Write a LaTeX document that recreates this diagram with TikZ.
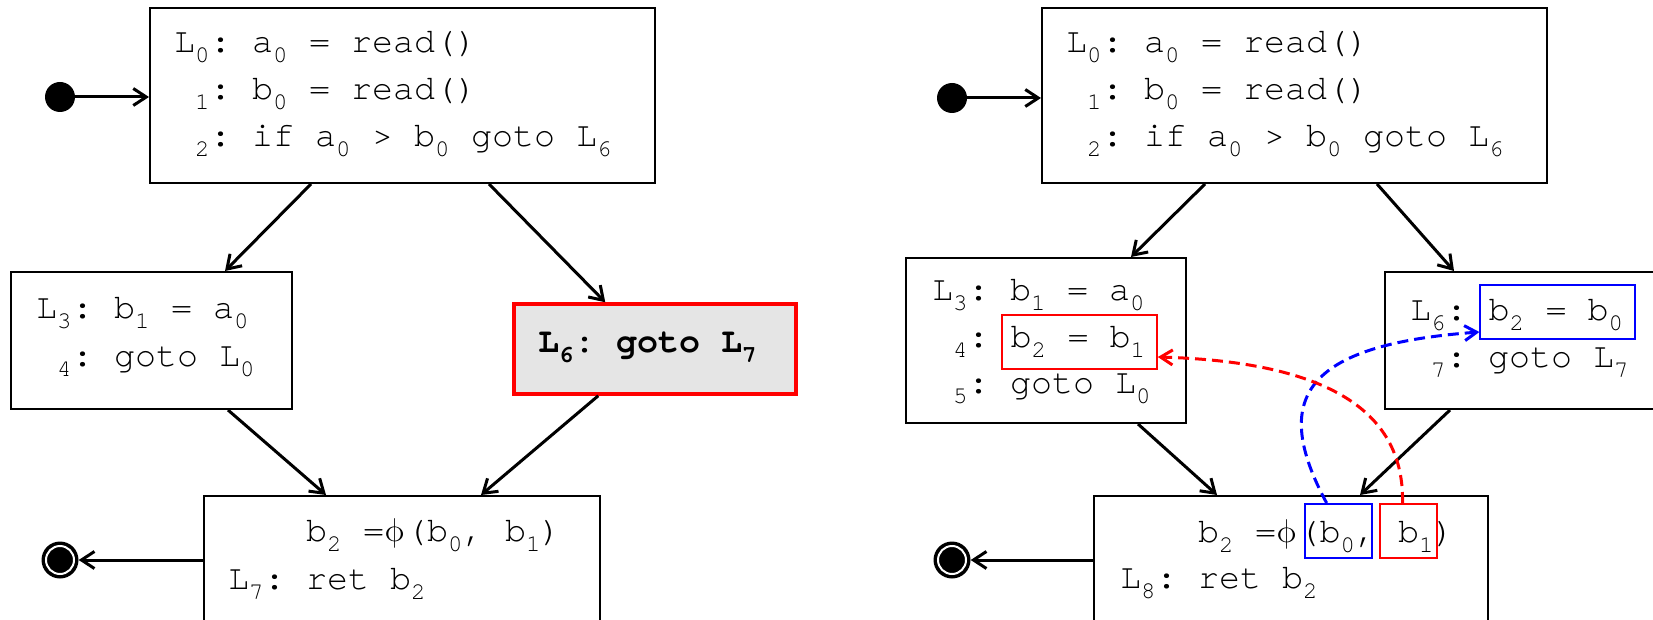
\documentclass[tikz,border=0pt]{standalone}
\usepackage{fontspec}
\usetikzlibrary{arrows.meta,fit}
\newfontfamily\cur{TeX Gyre Cursor}
\newfontfamily\lmm{Latin Modern Math}
\newcommand\codefont{\cur\fontsize{35}{47}\selectfont\frenchspacing}
\newlength\cw \setlength\cw{21pt}
\newcommand\sbs[1]{\makebox[15pt][l]{\raisebox{-10pt}{\fontsize{24}{24}\selectfont #1}}}
\newcommand\sbn[1]{\makebox[14pt][l]{\raisebox{-10pt}{\fontsize{24}{24}\selectfont #1}}}
\newcommand\phicell{\makebox[22pt][l]{\lmm\fontsize{33}{33}\selectfont\symbol{"03D5}}}
\newcommand\spc{\hspace*{\cw}}
\tikzset{
  box/.style={draw=black, line width=2pt, rectangle, inner sep=0pt},
  txt/.style={anchor=base west, inner sep=0pt, font=\codefont},
  hlbox/.style={rectangle, line width=2pt, inner sep=0pt},
  arr/.style={line width=3pt, -{Straight Barb[length=13pt,width=17pt]}},
  dsh/.style={line width=3pt, dash pattern=on 11pt off 6pt, -{Straight Barb[length=12pt,width=15pt]}},
  startdot/.style={circle, fill=black, minimum size=30pt, inner sep=0pt},
  enddot/.style={circle, fill=black, minimum size=37pt, inner sep=0pt,
    path picture={\draw[white, line width=2pt] (path picture bounding box.center) circle (14pt);}}
}
\begin{document}
\begin{tikzpicture}[x=1pt, y=-1pt]
\useasboundingbox (0,0) rectangle (1653,620);
\clip (0,0) rectangle (1653,620);
\fill[white] (0,0) rectangle (1653,620);

% ---------------- left diagram ----------------
\node[box, minimum width=505pt, minimum height=175pt] (t1) at (402.5,95.5) {};
\node[box, minimum width=281pt, minimum height=137pt] (a1) at (151.5,340.5) {};
\node[box, draw=red, line width=3.5pt, fill=black!10, minimum width=282pt, minimum height=90pt] (b1) at (655,349) {};
\node[box, minimum width=396pt, minimum height=160pt] (c1) at (402,576) {};
\node[startdot] (s1) at (60,97) {};
\node[enddot] (e1) at (60,560) {};

\node[txt] (t1a) at (174,53) {L\sbs0: a\sbs0 = read()};
\node[txt] (t1b) at (174,100) {\phantom{L}\sbs1: b\sbs0 = read()};
\node[txt] (t1c) at (174,147) {\phantom{L}\sbs2: if a\sbs0 > b\sbs0 goto L\sbn6};
\node[txt] (a1a) at (36,318) {L\sbs3: b\sbs1 = a\sbn0};
\node[txt] (a1b) at (36,366) {\phantom{L}\sbs4: goto L\sbn0};
\node[txt, font=\codefont\bfseries] (b1a) at (538,352) {L\sbs6: goto L\sbn7};
\node[txt] (c1a) at (228,541) {\phantom{L\sbs7:\spc}b\sbs2 =\phicell(b\sbs0, b\sbn1)};
\node[txt] (c1b) at (228,589) {L\sbs7: ret b\sbn2};

\draw[arr] (s1) -- (t1.west |- s1);
\draw[arr] ([xshift=162pt]t1.south west) -- ([xshift=215pt]a1.north west);
\draw[arr] ([xshift=340pt]t1.south west) -- ([xshift=93pt]b1.north west);
\draw[arr] ([xshift=218pt]a1.south west) -- ([xshift=123pt]c1.north west);
\draw[arr] ([xshift=86pt]b1.south west) -- ([xshift=278pt]c1.north west);
\draw[arr] (c1.west |- e1) -- (e1);

% ---------------- right diagram ----------------
\node[box, minimum width=505pt, minimum height=175pt] (t2) at (1294.5,95.5) {};
\node[box, minimum width=280pt, minimum height=165pt] (a2) at (1046,340.5) {};
\node[box, minimum width=285pt, minimum height=137pt] (b2) at (1527,340.5) {};
\node[box, minimum width=394pt, minimum height=160pt] (c2) at (1291,576) {};
\node[startdot] (s2) at (952,98) {};
\node[enddot] (e2) at (952,560) {};

\node[txt] (t2a) at (1066,53) {L\sbs0: a\sbs0 = read()};
\node[txt] (t2b) at (1066,100) {\phantom{L}\sbs1: b\sbs0 = read()};
\node[txt] (t2c) at (1066,147) {\phantom{L}\sbs2: if a\sbs0 > b\sbs0 goto L\sbn6};

\node[txt] (a2a) at (932,300) {L\sbs3: b\sbs1 = a\sbn0};
\node[txt] (a2b) at (932,347) {\phantom{L}\sbs4:\spc};
\node[txt] (a2c) at (a2b.base east) {b\sbs2 = b\sbn1};
\node[txt] (a2d) at (932,393) {\phantom{L}\sbs5: goto L\sbn0};

\node[txt] (b2a) at (1410,320) {L\sbs6:\spc};
\node[txt] (b2c) at (b2a.base east) {b\sbs2 = b\sbn0};
\node[txt] (b2d) at (1410,367) {\phantom{L}\sbs7: goto L\sbn7};

\node[txt] (c2a) at (1120,542) {\phantom{L\sbs8:\spc}b\sbs2 =\phicell};
\node[txt] (c2b) at (c2a.base east) {(b\sbs0,};
\node[txt] (c2c) at (c2b.base east) {\spc b\sbn1};
\node[txt] (c2d) at (c2c.base east) {)};
\node[txt] (c2e) at (1120,588) {L\sbs8: ret b\sbn2};

\node[hlbox, draw=red, fit={([xshift=-8pt,yshift=32pt]a2c.base west) ([xshift=12pt,yshift=-22pt]a2c.base east)}] (a2r) {};
\node[hlbox, draw=blue, fit={([xshift=7pt,yshift=38pt]c2b.base west) ([xshift=-5pt,yshift=-16pt]c2b.base east)}] (c2bx) {};
\node[hlbox, draw=blue, fit={([xshift=-8pt,yshift=35pt]b2c.base west) ([xshift=12pt,yshift=-19pt]b2c.base east)}] (b2b) {};
\node[hlbox, draw=red, fit={([xshift=3pt,yshift=38pt]c2c.base west) ([xshift=4pt,yshift=-16pt]c2c.base east)}] (c2rx) {};

\draw[arr] (s2) -- (t2.west |- s2);
\draw[arr] ([xshift=164pt]t2.south west) -- ([xshift=226pt]a2.north west);
\draw[arr] ([xshift=336pt]t2.south west) -- ([xshift=70.5pt]b2.north west);
\draw[arr] ([xshift=233pt]a2.south west) -- ([xshift=124pt]c2.north west);
\draw[arr] ([xshift=66.5pt]b2.south west) -- ([xshift=267pt]c2.north west);
\draw[arr] (c2.west |- e2) -- (e2);

\draw[dsh, blue] ([xshift=-12pt]c2bx.north) .. controls +(-56,-104) and +(-177,13) .. ([yshift=-20pt]b2b.west);
\draw[dsh, red] ([xshift=-6pt]c2rx.north) .. controls +(2,-89) and +(175,5) .. ([yshift=-15pt]a2r.east);
\end{tikzpicture}
\end{document}
